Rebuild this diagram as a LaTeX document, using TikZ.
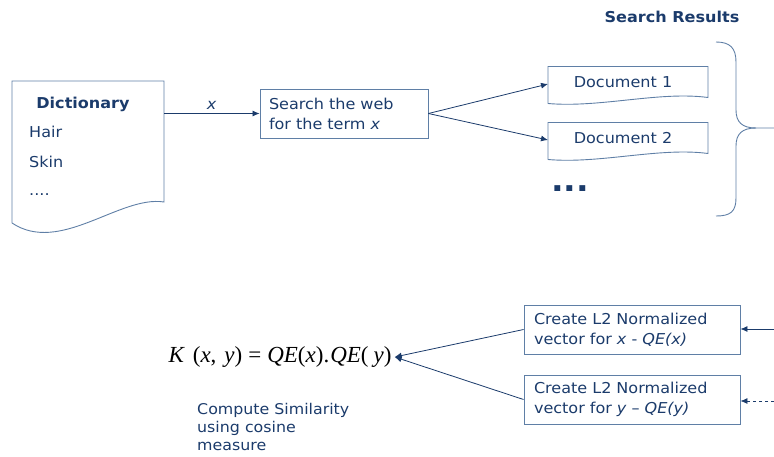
\documentclass[tikz,border=0pt]{standalone}
\usepackage{fontspec}
\setmainfont[FakeStretch=1.07]{DejaVu Sans}
\newfontfamily\tms{Liberation Serif}
\usetikzlibrary{arrows.meta,calc}
\definecolor{navy}{HTML}{1B3B6B}
\definecolor{edge}{HTML}{5F7FA6}
\tikzset{
  txt/.style={text=navy,font=\fontsize{15}{20}\selectfont,inner sep=0pt},
  boldtxt/.style={text=navy,font=\fontsize{15}{18}\selectfont\bfseries,inner sep=0pt},
  box/.style={draw=edge,line width=0.9pt},
  conn/.style={draw=navy,line width=0.8pt,-{Latex[length=7pt,width=6pt]}},
  ghost/.style={inner sep=0pt,outer sep=0pt},
}
\begin{document}
\begin{tikzpicture}[x=1pt,y=-1pt]
\useasboundingbox (0,0) rectangle (774,456);
% Dictionary document
\node[ghost,minimum width=152pt,minimum height=142pt] (dict) at (88,152) {};
\draw[box] (dict.south west) -- (dict.north west) -- (dict.north east) -- ($(dict.north east)+(0,121)$)
  .. controls (120,195) and (60,255) .. (dict.south west);
\node[boldtxt] (dtitle) at (83,104) {Dictionary};
\node[txt,anchor=west] (hair) at (29,132) {Hair};
\node[txt,anchor=west] (skin) at (29,162) {Skin};
\node[txt,anchor=west] (dots) at (29,195) {....};
% Search box
\node[box,txt,align=left,minimum width=168pt,minimum height=49pt,inner xsep=9pt,text width=150pt] (search) at (344,113.5) {Search the web\\for the term \textit{x}};
\draw[conn] (dict.east |- search.west) -- node[txt,above=4pt] {\textit{x}} (search.west);
% Documents
\node[ghost,minimum width=160pt,minimum height=35pt] (d1) at (628,84) {};
\draw[box] ($(d1.south west)+(0,2)$) -- (d1.north west) -- (d1.north east) -- ($(d1.south east)+(0,-4)$)
  .. controls (660,91) and (600,108) .. ($(d1.south west)+(0,2)$);
\node[txt] at (623,82) {Document 1};
\node[ghost,minimum width=160pt,minimum height=35pt] (d2) at (628,140) {};
\draw[box] ($(d2.south west)+(0,2)$) -- (d2.north west) -- (d2.north east) -- ($(d2.south east)+(0,-4)$)
  .. controls (660,147) and (600,164) .. ($(d2.south west)+(0,2)$);
\node[txt] at (623,138) {Document 2};
\draw[conn] (search.east) -- (d1.west);
\draw[conn] (search.east) -- (d2.west);
\node[text=navy,font=\fontsize{31}{31}\selectfont\bfseries,inner sep=0pt] (more) at (570,189) {...};
% brace
\node[boldtxt] (sr) at (672,17) {Search Results};
\coordinate (btop) at (716,42);
\coordinate (bbot) at (716,216);
\coordinate (btip) at (774,128);
\draw[box] (btop) .. controls (730,42) and (736,48) .. (736,62) -- (736,110)
  .. controls (736,122) and (742,128) .. (756,128) -- (btip);
\draw[box] (756,128) .. controls (742,128) and (736,134) .. (736,146) -- (736,198)
  .. controls (736,212) and (730,216) .. (bbot);
% lower part
\node[inner sep=0pt,font=\tms\fontsize{23}{23}\selectfont] (formula) at (280,357) {\textit{K}\hspace{8pt}(\textit{x},\hspace{8pt}\textit{y})\hspace{6pt}=\hspace{6pt}\textit{QE}(\textit{x}).\hspace{1pt}\textit{QE}(\hspace{5pt}\textit{y})};
\node[box,txt,align=left,minimum width=216pt,minimum height=49pt,inner xsep=10pt,text width=196pt] (v1) at (632,329.5) {Create L2 Normalized\\vector for \textit{x} - \textit{QE(x)}};
\node[box,txt,align=left,minimum width=216pt,minimum height=49pt,inner xsep=10pt,text width=196pt] (v2) at (632,399.5) {Create L2 Normalized\\vector for \textit{y} -- \textit{QE(y)}};
\coordinate (in1) at (774,329);
\coordinate (in2) at (774,401);
\draw[conn] (in1) -- (v1.east |- in1);
\draw[conn,dashed] (in2) -- (v2.east |- in2);
\draw[conn] (v1.west) -- ($(formula.east)+(3,0)$);
\draw[conn] (v2.west) -- ($(formula.east)+(3,0)$);
\node[txt,align=left,anchor=north west,font=\fontsize{14.8}{18}\selectfont] (cs) at (197,403) {Compute Similarity\\using cosine\\measure};
\end{tikzpicture}
\end{document}
